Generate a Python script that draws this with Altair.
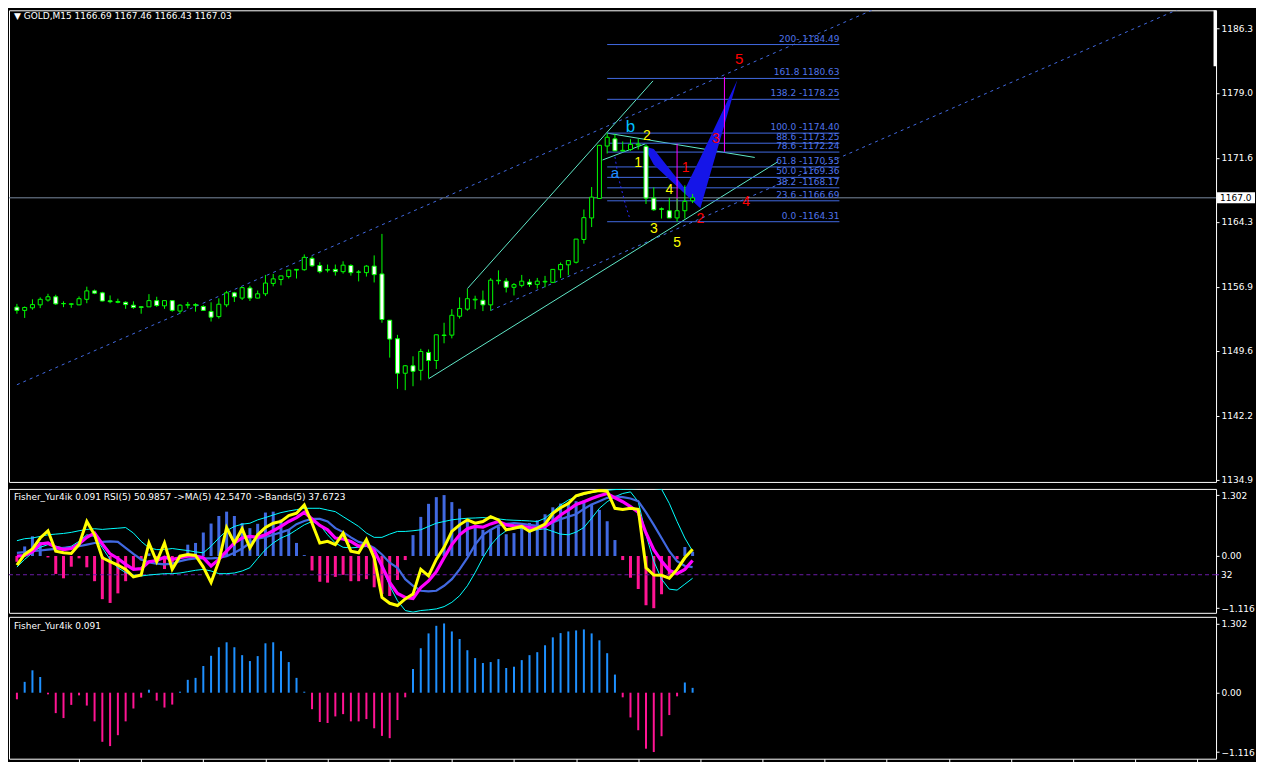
import altair as alt
import pandas as pd

# ---------------- data ----------------
bars = list(range(88))
opens = [1154.58, 1154.21, 1154.50, 1154.84, 1155.39, 1155.76, 1154.99, 1154.90, 1154.84, 1155.47,
         1156.43, 1156.21, 1155.30, 1155.12, 1155.13, 1154.80, 1154.62, 1154.61, 1155.32, 1154.73,
         1155.32, 1154.13, 1154.80, 1154.86, 1154.65, 1154.09, 1153.50, 1154.84, 1156.21, 1155.61,
         1156.76, 1155.61, 1156.10, 1157.28, 1157.73, 1158.06, 1158.80, 1158.84, 1160.14, 1159.32,
         1158.85, 1158.88, 1158.62, 1159.32, 1158.58, 1158.51, 1159.25, 1158.36, 1153.09, 1150.98,
         1147.05, 1147.90, 1147.38, 1149.42, 1148.50, 1151.35, 1151.39, 1153.54, 1154.35, 1155.40,
         1155.36, 1154.84, 1157.58, 1157.54, 1156.84, 1157.06, 1157.43, 1157.17, 1157.45, 1157.40,
         1158.84, 1159.40, 1159.69, 1162.29, 1164.74, 1166.96, 1172.93, 1173.75, 1172.36, 1172.53,
         1173.05, 1172.90, 1167.00, 1165.78, 1165.56, 1164.74, 1165.56, 1166.69]
highs = [1154.95, 1154.65, 1155.47, 1155.69, 1156.10, 1155.99, 1155.24, 1155.02, 1155.80, 1156.91,
         1156.58, 1156.32, 1155.91, 1155.54, 1155.24, 1155.24, 1154.65, 1156.06, 1155.76, 1155.32,
         1155.39, 1154.91, 1155.17, 1155.02, 1154.80, 1155.13, 1155.58, 1156.43, 1156.32, 1156.87,
         1157.02, 1156.47, 1158.25, 1158.36, 1158.14, 1158.84, 1158.91, 1160.58, 1160.36, 1159.69,
         1159.43, 1159.43, 1159.80, 1159.47, 1158.80, 1159.36, 1160.47, 1162.92, 1153.09, 1151.42,
         1147.98, 1148.98, 1149.83, 1149.76, 1151.43, 1152.80, 1154.35, 1155.69, 1156.65, 1155.88,
         1156.47, 1157.88, 1158.77, 1157.88, 1157.32, 1158.25, 1157.77, 1157.91, 1158.14, 1158.88,
         1159.66, 1159.88, 1162.33, 1165.70, 1168.26, 1173.05, 1174.40, 1174.31, 1173.45, 1173.71,
         1173.75, 1173.12, 1168.22, 1165.93, 1167.04, 1166.96, 1168.45, 1167.46]
lows = [1153.83, 1153.35, 1154.28, 1154.47, 1155.21, 1154.84, 1154.58, 1154.50, 1154.80, 1155.02,
        1156.06, 1155.24, 1155.02, 1155.02, 1154.39, 1154.39, 1153.83, 1154.61, 1154.61, 1154.39,
        1154.06, 1153.83, 1154.43, 1154.06, 1154.17, 1152.94, 1153.28, 1154.58, 1155.17, 1155.39,
        1155.28, 1155.58, 1155.84, 1156.95, 1157.06, 1157.84, 1157.84, 1158.73, 1159.17, 1158.43,
        1158.54, 1158.17, 1158.40, 1158.17, 1157.51, 1158.06, 1157.39, 1152.80, 1148.83, 1145.27,
        1145.12, 1145.57, 1146.24, 1146.49, 1147.53, 1150.46, 1151.02, 1153.28, 1154.17, 1154.35,
        1154.13, 1154.17, 1157.17, 1156.25, 1155.91, 1156.84, 1156.88, 1156.69, 1156.84, 1157.32,
        1157.91, 1158.21, 1159.55, 1161.81, 1163.70, 1166.90, 1172.08, 1172.34, 1172.34, 1172.38,
        1172.53, 1166.33, 1165.56, 1164.67, 1164.74, 1164.31, 1164.67, 1166.43]
closes = [1154.21, 1154.54, 1154.87, 1155.47, 1155.76, 1154.95, 1154.97, 1154.96, 1155.54, 1156.43,
          1156.17, 1155.28, 1155.20, 1155.22, 1154.87, 1154.54, 1154.55, 1155.32, 1154.76, 1155.32,
          1154.21, 1154.80, 1154.86, 1154.80, 1154.21, 1153.43, 1154.91, 1156.21, 1155.76, 1156.80,
          1155.61, 1156.10, 1157.32, 1157.80, 1158.14, 1158.80, 1158.88, 1160.25, 1159.29, 1158.62,
          1158.80, 1158.62, 1159.36, 1158.51, 1158.56, 1159.25, 1158.28, 1153.17, 1150.94, 1147.05,
          1147.90, 1147.27, 1149.53, 1148.50, 1151.43, 1151.40, 1153.65, 1154.43, 1155.54, 1155.48,
          1154.84, 1157.65, 1157.64, 1156.84, 1157.14, 1157.54, 1157.17, 1157.54, 1157.52, 1158.88,
          1159.43, 1159.88, 1162.33, 1164.77, 1167.11, 1173.01, 1173.93, 1172.38, 1172.44, 1173.12,
          1173.15, 1167.00, 1165.67, 1165.72, 1164.74, 1165.56, 1166.63, 1167.03]

fisher = [-0.124, 0.204, 0.421, 0.297, -0.031, -0.384, -0.477, -0.229, -0.050, -0.242,
          -0.539, -0.923, -1.004, -0.799, -0.539, -0.297, -0.093, 0.056, -0.149, -0.279,
          -0.223, 0.019, 0.242, 0.279, 0.502, 0.694, 0.855, 0.948, 0.855, 0.706,
          0.595, 0.688, 0.929, 0.948, 0.781, 0.576, 0.279, 0.019, -0.310, -0.551,
          -0.570, -0.446, -0.403, -0.539, -0.539, -0.496, -0.669, -0.812, -0.855, -0.514,
          -0.087, 0.446, 0.836, 1.115, 1.258, 1.302, 1.152, 1.010, 0.799, 0.651,
          0.558, 0.576, 0.632, 0.465, 0.489, 0.613, 0.706, 0.762, 0.892, 1.041,
          1.121, 1.152, 1.171, 1.190, 1.115, 0.985, 0.743, 0.341, -0.087, -0.465,
          -0.706, -1.053, -1.116, -0.818, -0.421, -0.068, 0.192, 0.091]

rsi = [39.2, 47.1, 51.2, 59.3, 64.7, 49.5, 48.3, 47.8, 54.4, 71.6,
       61.7, 44.6, 41.7, 39.2, 36.0, 30.4, 31.8, 55.6, 41.7, 55.6,
       36.0, 45.8, 47.1, 46.3, 37.7, 26.2, 42.1, 67.1, 55.6, 66.2,
       52.0, 61.7, 67.1, 70.3, 71.6, 76.0, 77.7, 83.8, 70.3, 55.6,
       56.8, 54.4, 63.0, 49.5, 48.3, 58.1, 44.6, 15.2, 10.8, 9.1,
       14.0, 17.6, 36.0, 31.1, 43.4, 52.4, 64.2, 69.1, 72.8, 70.3,
       71.6, 75.2, 72.8, 65.4, 66.6, 67.9, 64.2, 66.6, 69.6, 77.7,
       81.8, 85.0, 90.7, 92.4, 93.6, 94.6, 94.1, 81.4, 80.6, 81.4,
       80.6, 37.2, 31.8, 31.6, 29.4, 36.0, 44.6, 50.99]
rsi_ma = [45.8, 46.3, 49.0, 54.9, 55.6, 52.4, 50.7, 51.5, 54.9, 59.8,
          63.0, 54.9, 47.5, 44.1, 39.7, 36.0, 36.5, 41.7, 42.6, 45.0,
          43.4, 44.6, 45.8, 45.8, 44.6, 38.5, 43.4, 49.5, 55.6, 59.3,
          60.5, 59.8, 61.7, 64.7, 67.9, 71.6, 74.5, 78.4, 73.5, 68.6,
          65.4, 59.3, 58.6, 56.8, 53.2, 54.4, 50.0, 38.5, 26.2, 18.1,
          15.2, 14.4, 22.5, 27.4, 34.3, 44.6, 54.4, 61.7, 66.2, 67.9,
          67.4, 69.8, 71.6, 69.1, 68.4, 67.9, 67.1, 66.6, 67.9, 71.6,
          76.4, 80.1, 84.3, 86.3, 88.7, 90.7, 92.4, 89.2, 86.3, 82.6,
          78.4, 63.0, 50.7, 42.1, 35.3, 32.8, 36.0, 42.55]
rsi_slow = [48.3, 48.8, 49.5, 50.0, 50.7, 51.2, 52.0, 52.4, 53.2, 54.4,
            55.6, 56.4, 56.8, 56.4, 52.0, 47.5, 43.4, 41.2, 40.2, 39.7,
            40.2, 42.1, 43.4, 44.1, 44.1, 44.1, 44.6, 45.8, 48.3, 51.5,
            55.6, 58.8, 60.0, 61.7, 63.5, 65.4, 69.6, 72.0, 73.5, 73.5,
            71.6, 66.6, 63.7, 59.8, 56.4, 54.9, 52.0, 47.1, 40.9, 37.2,
            28.7, 23.8, 20.1, 19.6, 20.1, 23.8, 28.7, 36.0, 44.6, 54.4,
            61.7, 65.4, 68.6, 69.8, 70.3, 69.8, 69.1, 68.4, 68.6, 70.8,
            73.3, 75.2, 77.0, 80.9, 84.3, 86.7, 89.2, 90.0, 89.7, 88.7,
            86.7, 78.4, 69.1, 59.3, 49.5, 42.1, 38.5, 37.67]
band_up = [57.3, 58.8, 59.3, 60.5, 61.7, 62.2, 62.7, 63.5, 64.7, 65.7,
           66.2, 65.7, 66.2, 66.6, 67.1, 63.0, 56.8, 52.0, 50.7, 50.7,
           51.5, 50.7, 50.0, 49.0, 48.3, 53.2, 59.3, 64.7, 67.9, 69.6,
           70.3, 72.8, 74.5, 76.4, 78.2, 79.4, 80.4, 81.4, 81.4, 81.4,
           80.1, 78.9, 75.2, 71.6, 67.9, 63.0, 59.8, 59.8, 62.2, 64.2,
           64.2, 64.7, 65.4, 67.9, 70.3, 71.6, 72.8, 73.5, 74.0, 74.2,
           74.5, 74.0, 73.5, 72.8, 72.5, 72.3, 72.0, 71.6, 74.0, 78.9,
           83.8, 87.5, 90.0, 91.7, 93.1, 94.1, 94.8, 95.3, 95.6, 95.8,
           96.1, 96.1, 96.1, 95.6, 85.0, 71.6, 59.3, 49.5]
band_dn = [37.7, 43.4, 48.3, 52.4, 54.4, 53.2, 52.0, 53.2, 56.8, 61.7,
           60.5, 52.0, 43.4, 37.2, 33.6, 31.8, 31.1, 31.8, 32.3, 32.8,
           32.8, 33.3, 34.3, 35.3, 36.0, 34.8, 32.8, 32.8, 33.3, 34.8,
           37.2, 44.1, 50.7, 55.6, 59.3, 61.7, 65.4, 69.1, 71.6, 69.1,
           61.7, 55.6, 52.4, 52.0, 52.4, 53.0, 50.7, 37.2, 23.8, 12.7,
           5.4, 4.2, 5.4, 5.9, 6.6, 8.3, 11.5, 16.4, 23.8, 33.6,
           44.6, 53.9, 60.5, 64.7, 66.6, 66.6, 65.4, 65.4, 66.2, 64.2,
           62.2, 61.7, 63.7, 67.1, 74.0, 81.4, 86.3, 90.0, 92.4, 93.6,
           86.3, 61.7, 42.1, 28.7, 21.3, 20.6, 25.0, 29.4]

price_ticks = [1186.3, 1182.7, 1179.0, 1175.3, 1171.6, 1168.0, 1164.3, 1160.6,
               1156.9, 1153.3, 1149.6, 1145.9, 1142.2, 1138.5, 1134.9]
fish_ticks = [1.302, 0.0, -1.116]
rsi_level = 32
last_close = 1167.03

fib_price = [1184.49, 1180.63, 1178.25, 1174.40, 1173.25, 1172.24, 1170.55, 1169.36, 1168.17, 1166.69, 1164.31]
fib_text = ["200- 1184.49", "161.8 1180.63", "138.2  -1178.25", "100.0 -1174.40", "88.6 -1173.25",
            "78.6 -1172.24", "61.8 -1170.55", "50.0 -1169.36", "38.2 -1168.17", "23.6 -1166.69",
            "0.0 -1164.31"]
fib_from, fib_to = 76, 105.9

# trend lines: id, bar, price
dash_id = ["d1", "d1", "d2", "d2"]
dash_x = [0, 153.75, 61, 153.75]
dash_p = [1145.74, 1205.32, 1154.2, 1190.14]
cyan_id = ["c1", "c1", "c2", "c2", "c3", "c3", "c4", "c4"]
cyan_x = [53, 98, 58, 81.9, 76, 95, 75.4, 80.9]
cyan_p = [1146.42, 1171.15, 1156.69, 1180.35, 1174.40, 1171.63, 1171.34, 1173.18]
dot_x = [77.0, 77.4, 77.9, 78.4, 78.9]
dot_p = [1171.7, 1169.5, 1167.8, 1166.1, 1164.7]
mag_x = [85.0, 91.1]
mag_lo = [1165.40, 1172.26]
mag_hi = [1173.18, 1180.79]

# wedges (area: x, top, bottom)
wedge_id = ["w1", "w1", "w1", "w2", "w2", "w2"]
wedge_x = [80.7, 82.0, 88.0, 85.9, 88.0, 92.75]
wedge_top = [1172.9, 1172.6, 1165.84, 1167.81, 1171.6, 1180.42]
wedge_bot = [1172.9, 1170.8, 1165.84, 1167.81, 1165.84, 1180.42]

lab_t = ["1", "2", "3", "4", "5", "1", "2", "3", "4", "5", "b", "a"]
lab_x = [86.1, 88.0, 90.0, 93.9, 93.0, 80.0, 81.1, 82.0, 84.0, 85.0, 79.0, 77.0]
lab_p = [1170.40, 1164.66, 1173.74, 1166.51, 1182.83, 1170.96, 1174.12, 1163.47, 1167.92, 1161.88, 1175.04, 1169.85]
lab_c = ["#ff0000"] * 5 + ["#ffff00"] * 5 + ["#00bfff", "#1e90ff"]
lab_s = [14, 14, 14, 14, 15, 14, 14, 14, 14, 14, 17, 15]

header_main = "\u25bc GOLD,M15  1166.69 1167.46 1166.43 1167.03"
header_ind = "Fisher_Yur4ik 0.091  RSI(5) 50.9857  ->MA(5) 42.5470  ->Bands(5) 37.6723"
header_fish = "Fisher_Yur4ik 0.091"

# ---------------- layout ----------------
W = 1208
H1, H2, H3 = 472, 124, 142
FONT = "DejaVu Sans"
xs = alt.Scale(domain=[-0.375, 153.75], nice=False, zero=False)
ys = alt.Scale(domain=[1134.67, 1188.39], nice=False, zero=False)
fs2 = alt.Scale(domain=[-1.215, 1.434], nice=False, zero=False)
rs2 = alt.Scale(domain=[3.7, 95.8], nice=False, zero=False)
fs3 = alt.Scale(domain=[-1.241, 1.427], nice=False, zero=False)

def X(f="i"):
    return alt.X(f"{f}:Q", scale=xs, axis=None)

candles = pd.DataFrame({"i": bars, "o": opens, "h": highs, "l": lows, "c": closes})
price_axis = alt.Axis(orient="right", values=price_ticks, format=".1f", title=None)

wicks = alt.Chart(candles).mark_rule(color="#00ff00", strokeWidth=1).encode(
    x=X(), y=alt.Y("l:Q", scale=ys, axis=price_axis), y2="h:Q")
bodies = alt.Chart(candles).mark_bar(size=4, stroke="#00ff00", strokeWidth=1).encode(
    x=X(), y=alt.Y("o:Q", scale=ys), y2="c:Q",
    fill=alt.condition("datum.c > datum.o", alt.value("black"), alt.value("white")))

dash_df = pd.DataFrame({"id": dash_id, "x": dash_x, "p": dash_p})
dashes = alt.Chart(dash_df).mark_line(color="#4169e1", strokeWidth=1, strokeDash=[3, 4], clip=True).encode(
    x=X("x"), y=alt.Y("p:Q", scale=ys), detail="id:N")
cyan_df = pd.DataFrame({"id": cyan_id, "x": cyan_x, "p": cyan_p})
cyans = alt.Chart(cyan_df).mark_line(color="#5fe8c8", strokeWidth=1, clip=True).encode(
    x=X("x"), y=alt.Y("p:Q", scale=ys), detail="id:N")
dot_df = pd.DataFrame({"x": dot_x, "p": dot_p})
dots = alt.Chart(dot_df).mark_line(color="#2a2aff", strokeWidth=1, strokeDash=[2, 3]).encode(
    x=X("x"), y=alt.Y("p:Q", scale=ys))

wedge_df = pd.DataFrame({"id": wedge_id, "x": wedge_x, "t": wedge_top, "b": wedge_bot})
wedges = alt.Chart(wedge_df).mark_area(color="#1515e8", opacity=1).encode(
    x=X("x"), y=alt.Y("t:Q", scale=ys), y2="b:Q", detail="id:N")

fib_df = pd.DataFrame({"p": fib_price, "t": fib_text, "x0": [fib_from] * 11, "x1": [fib_to] * 11})
fib_lines = alt.Chart(fib_df).mark_rule(color="#4169e1", strokeWidth=1).encode(
    x=X("x0"), x2="x1:Q", y=alt.Y("p:Q", scale=ys))
fib_labels = alt.Chart(fib_df).mark_text(align="right", baseline="bottom", dy=-1, color="#4f74ea",
                                         font=FONT, fontSize=9).encode(
    x=X("x1"), y=alt.Y("p:Q", scale=ys), text="t:N")

mag_df = pd.DataFrame({"x": mag_x, "lo": mag_lo, "hi": mag_hi})
mags = alt.Chart(mag_df).mark_rule(color="#ff00ff", strokeWidth=1).encode(
    x=X("x"), y=alt.Y("lo:Q", scale=ys), y2="hi:Q")

last_df = pd.DataFrame({"p": [last_close], "t": ["1167.0"]})
last_line = alt.Chart(last_df).mark_rule(color="#7a8aa0", strokeWidth=1).encode(
    y=alt.Y("p:Q", scale=ys))
last_box = alt.Chart(last_df).mark_tick(orient="horizontal", size=38, thickness=11, color="white",
                                        opacity=1).encode(
    x=alt.value(W + 20), y=alt.Y("p:Q", scale=ys))
last_txt = alt.Chart(last_df).mark_text(align="left", baseline="middle", color="black", font=FONT,
                                        fontSize=9).encode(
    x=alt.value(W + 4), y=alt.Y("p:Q", scale=ys), text="t:N")
shift_mark = alt.Chart(last_df).mark_rule(color="white", strokeWidth=3).encode(
    x=alt.value(W - 1), y=alt.value(0), y2=alt.value(56))

lab_df = pd.DataFrame({"t": lab_t, "x": lab_x, "p": lab_p, "c": lab_c, "s": lab_s})
labels = alt.Chart(lab_df).mark_text(align="center", baseline="middle", font="Liberation Sans").encode(
    x=X("x"), y=alt.Y("p:Q", scale=ys), text="t:N",
    color=alt.Color("c:N", scale=None), size=alt.Size("s:Q", scale=None))

hdr_df = pd.DataFrame({"t": [header_main]})
hdr = alt.Chart(hdr_df).mark_text(align="left", baseline="middle", color="white", font=FONT,
                                  fontSize=9).encode(x=alt.value(5), y=alt.value(6), text="t:N")

main = alt.layer(dashes, cyans, last_line, fib_lines, fib_labels, wedges, dots, mags,
                 wicks, bodies, labels, last_box, last_txt, shift_mark, hdr).properties(width=W, height=H1)

# ---------------- indicator panel ----------------
ind = pd.DataFrame({"i": bars, "f": fisher, "z": [0] * 88, "rsi": rsi, "ma": rsi_ma,
                    "slow": rsi_slow, "up": band_up, "dn": band_dn})
fish_axis = alt.Axis(orient="right", values=fish_ticks, title=None,
                     labelExpr="datum.value == 0 ? '0.00' : format(datum.value, '.3f')")

hist2 = alt.Chart(ind).mark_bar(size=3).encode(
    x=X(), y=alt.Y("f:Q", scale=fs2, axis=fish_axis), y2="z:Q",
    color=alt.condition("datum.f >= 0", alt.value("#4169e1"), alt.value("#ff1493")))

def rline(field, color, width):
    return alt.Chart(ind).mark_line(color=color, strokeWidth=width, clip=True).encode(
        x=X(), y=alt.Y(f"{field}:Q", scale=rs2, axis=None))

lvl_df = pd.DataFrame({"v": [rsi_level], "t": [str(rsi_level)]})
lvl = alt.Chart(lvl_df).mark_rule(color="#6a1ba8", strokeWidth=1, strokeDash=[4, 3]).encode(
    y=alt.Y("v:Q", scale=rs2, axis=None))
lvl_tick = alt.Chart(lvl_df).mark_rule(color="#7a2ac8", strokeWidth=1).encode(
    x=alt.value(W), x2=alt.value(W + 3), y=alt.Y("v:Q", scale=rs2, axis=None))
lvl_txt = alt.Chart(lvl_df).mark_text(align="left", baseline="middle", color="white", font=FONT,
                                      fontSize=9).encode(
    x=alt.value(W + 5), y=alt.Y("v:Q", scale=rs2, axis=None), text="t:N")
hdr2 = alt.Chart(pd.DataFrame({"t": [header_ind]})).mark_text(
    align="left", baseline="middle", color="white", font=FONT, fontSize=9).encode(
    x=alt.value(5), y=alt.value(8), text="t:N")

panel2 = alt.layer(hist2, lvl, rline("up", "#00ffff", 1), rline("dn", "#00ffff", 1),
                   rline("slow", "#4169e1", 2.2), rline("ma", "#ff00ff", 3.2),
                   rline("rsi", "#ffff00", 3), lvl_tick, lvl_txt, hdr2).resolve_scale(
    y="independent").properties(width=W, height=H2)

# ---------------- fisher panel ----------------
hist3 = alt.Chart(ind).mark_bar(size=2).encode(
    x=alt.X("i:Q", scale=xs, axis=alt.Axis(values=list(range(8, 153, 8)), labels=False, ticks=True,
                                           tickSize=3, domain=False, grid=False, title=None)),
    y=alt.Y("f:Q", scale=fs3, axis=fish_axis), y2="z:Q",
    color=alt.condition("datum.f >= 0", alt.value("#1e90ff"), alt.value("#ff1493")))
hdr3 = alt.Chart(pd.DataFrame({"t": [header_fish]})).mark_text(
    align="left", baseline="middle", color="white", font=FONT, fontSize=9).encode(
    x=alt.value(5), y=alt.value(9), text="t:N")
panel3 = alt.layer(hist3, hdr3).properties(width=W, height=H3)

chart = alt.vconcat(main, panel2, panel3, spacing=2).properties(
    padding=0, background="black"
).configure_view(stroke="white", strokeWidth=1).configure_axis(
    labelColor="white", tickColor="white", domain=False, grid=False, labelFont=FONT,
    labelFontSize=9, tickSize=3, labelPadding=2
)

chart.save("out.html", embed_options={"renderer": "svg", "actions": False})
